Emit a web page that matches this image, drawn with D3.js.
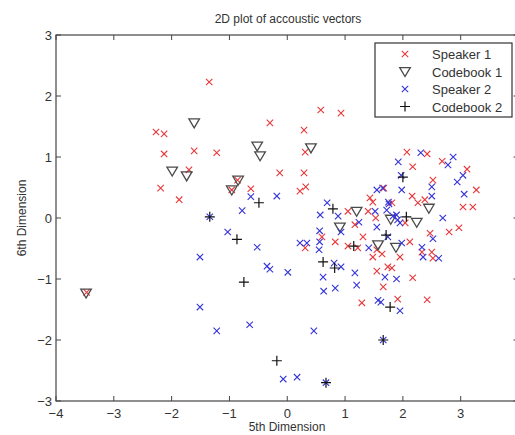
<!DOCTYPE html>
<html lang="en">
	<head>
		<meta charset="utf-8">
		<title>2D plot of accoustic vectors</title>
		<script type="text/javascript" src="https://cdn.jsdelivr.net/npm/d3@7"></script>
		<style type="text/css">
			body { margin: 0; background: #fff; }
			text { font-family: Arial, "Liberation Sans", sans-serif; fill: #333; }
		</style>
	</head>
	<body>
		<script type="text/javascript">
			//Speaker 1 vectors (red x)
			var spk1X = [-1.35, -2.27, -2.13, -2.13, -1.61, -1.22, -1.70, -2.19, -1.87, -0.63,
						 -0.30, 0.29, 0.58, 0.93, 0.31, -0.13, 0.29, 0.22, 0.32, 2.07,
						 2.42, 2.17, 2.68, 3.11, 3.27, 3.04, 3.21, 2.52, 2.16, 2.26,
						 2.38, 1.43, 1.48, 1.67, 1.81, 1.05, 1.40, 1.53, 1.17, 2.04,
						 0.60, 0.31, 0.83, 1.05, 1.31, 1.22, 1.55, 1.48, 1.64, 1.95,
						 2.12, 2.47, 2.80, 2.97, 2.33, 2.50, 2.52, 1.55, 1.74, 1.81,
						 2.17, 1.66, 1.29, 1.91, 2.42, -3.47, -0.96, -0.86];
			var spk1Y = [2.23, 1.41, 1.38, 1.05, 1.10, 1.07, 0.79, 0.49, 0.30, 0.48,
						 1.56, 1.44, 1.77, 1.72, 1.08, 0.74, 0.74, 0.44, 0.51, 1.08,
						 1.05, 0.84, 0.93, 0.80, 0.46, 0.18, 0.18, 0.62, 0.36, 0.25,
						 0.30, 0.33, 0.26, 0.49, 0.25, 0.11, 0.11, 0.00, -0.11, -0.08,
						 -0.31, -0.49, -0.39, -0.46, -0.31, -0.49, -0.52, -0.64, -0.59, -0.64,
						 -0.39, -0.25, -0.23, -0.16, -0.56, -0.56, -0.66, -0.87, -0.80, -0.82,
						 -0.98, -1.13, -1.39, -1.33, -1.34, -1.22, 0.46, 0.62];

			//Codebook 1 (triangles)
			var cb1X = [-1.61, -1.99, -1.74, -0.52, -0.47, -0.96, -0.85, 0.41,
						1.20, 2.45, -3.48, 2.24, 1.79, 0.91, 1.57, 1.88];
			var cb1Y = [1.56, 0.77, 0.69, 1.18, 1.02, 0.46, 0.62, 1.15,
						0.11, 0.16, -1.23, -0.07, -0.02, -0.15, -0.44, -0.48];

			//Speaker 2 vectors (blue x)
			var spk2X = [-1.34, -1.03, -0.52, -1.51, -1.51, -1.22, -0.65, 0.22, 0.34, -0.35,
						 -0.30, 0.01, 0.62, 0.63, 0.83, 0.81, 0.93, 1.17, 1.20, 1.62,
						 1.57, 1.95, 1.69, 1.89, 0.46, 1.66, -0.07, 0.17, 0.67, 2.31,
						 1.92, 2.78, 2.87, 3.04, 2.94, 1.97, 1.98, 2.50, 2.50, 3.06,
						 1.55, 1.65, 1.76, -0.18, 0.69, 0.57, 0.88, 1.52, 1.72, 2.69,
						 1.83, 1.91, 1.95, 1.24, 1.55, 0.56, 0.56, 0.55, 0.93, 1.41,
						 1.74, 1.98, 2.33, 2.35, 2.52, 2.62, -0.63, -0.78, 1.75, 1.89];
			var spk2Y = [0.02, -0.23, -0.48, -0.64, -1.46, -1.85, -1.75, -0.41, -0.41, -0.79,
						 -0.84, -0.89, -0.97, -1.20, -1.15, -0.74, -0.80, -0.90, -1.10, -1.38,
						 -1.35, -1.52, -0.97, -1.00, -1.85, -2.00, -2.64, -2.61, -2.70, 1.07,
						 0.92, 0.87, 1.00, 0.70, 0.59, 0.70, 0.46, 0.51, 0.36, 0.39,
						 0.46, 0.49, 0.23, 0.36, 0.25, 0.05, 0.03, 0.11, 0.13, 0.00,
						 0.03, -0.03, -0.08, -0.07, -0.15, -0.21, -0.39, -0.52, -0.23, -0.49,
						 -0.31, -0.41, -0.48, -0.64, -0.34, -0.66, 0.35, 0.12, 0.26, 0.05];

			//Codebook 2 (plus)
			var cb2X = [2.00, 0.79, -0.49, -1.34, -0.87, -0.75, 0.62, 0.82,
						1.78, 1.66, -0.18, 0.67, 2.06, 1.71, 1.15];
			var cb2Y = [0.67, 0.15, 0.25, 0.02, -0.35, -1.05, -0.72, -0.82,
						-1.46, -2.00, -2.34, -2.70, 0.02, -0.28, -0.46];

			var xTicks = [-4, -3, -2, -1, 0, 1, 2, 3, 4];
			var yTicks = [-3, -2, -1, 0, 1, 2, 3];
			var legendLabels = ["Speaker 1", "Codebook 1", "Speaker 2", "Codebook 2"];

			//Width and height
			var w = 515;
			var h = 435;
			var padL = 56, padR = 518.5, padT = 35, padB = 401;

			var xScale = d3.scaleLinear().domain([-4, 4]).range([padL, padR]);
			var yScale = d3.scaleLinear().domain([-3, 3]).range([padB, padT]);

			var svg = d3.select("body")
						.append("svg")
						.attr("width", w)
						.attr("height", h);

			function zip(xs, ys) {
				return xs.map(function(d, i) { return [d, ys[i]]; });
			}

			//Marker shapes
			function xMark(r) {
				return "M" + (-r) + "," + (-r) + "L" + r + "," + r + "M" + (-r) + "," + r + "L" + r + "," + (-r);
			}
			function plusMark(r) {
				return "M" + (-r) + ",0L" + r + ",0M0," + (-r) + "L0," + r;
			}
			function triMark(r) {
				return "M" + (-r) + "," + (-r * 0.75) + "L" + r + "," + (-r * 0.75) + "L0," + (r * 0.95) + "Z";
			}

			var styles = [
				{ path: xMark(3.2), stroke: "#e8383b", width: 1.1 },
				{ path: triMark(5.3), stroke: "#4a4a4a", width: 1.3 },
				{ path: xMark(3.2), stroke: "#3434d8", width: 1.1 },
				{ path: plusMark(5), stroke: "#111", width: 1.2 }
			];
			var series = [zip(spk1X, spk1Y), zip(cb1X, cb1Y), zip(spk2X, spk2Y), zip(cb2X, cb2Y)];

			//Box
			svg.append("rect")
			   .attr("x", padL)
			   .attr("y", padT)
			   .attr("width", padR - padL)
			   .attr("height", padB - padT)
			   .attr("fill", "none")
			   .attr("stroke", "#444")
			   .attr("stroke-width", 1.2);

			//Ticks (inward, on all four sides)
			var tl = 5;
			xTicks.forEach(function(t) {
				var x = xScale(t);
				svg.append("line").attr("x1", x).attr("x2", x).attr("y1", padB).attr("y2", padB - tl)
				   .attr("stroke", "#444");
				svg.append("line").attr("x1", x).attr("x2", x).attr("y1", padT).attr("y2", padT + tl)
				   .attr("stroke", "#444");
				if (x < w - 4) {
					svg.append("text").attr("x", x).attr("y", 418)
					   .attr("text-anchor", "middle").attr("font-size", "13px")
					   .text(t < 0 ? "\u2212" + (-t) : t);
				}
			});
			yTicks.forEach(function(t) {
				var y = yScale(t);
				svg.append("line").attr("x1", padL).attr("x2", padL + tl).attr("y1", y).attr("y2", y)
				   .attr("stroke", "#444");
				svg.append("line").attr("x1", padR).attr("x2", padR - tl).attr("y1", y).attr("y2", y)
				   .attr("stroke", "#444");
				svg.append("text").attr("x", 52).attr("y", y + 5)
				   .attr("text-anchor", "end").attr("font-size", "13px")
				   .text(t < 0 ? "\u2212" + (-t) : t);
			});

			//Points
			series.forEach(function(data, k) {
				svg.append("g")
				   .selectAll("path")
				   .data(data)
				   .enter()
				   .append("path")
				   .attr("transform", function(d) {
				   		return "translate(" + xScale(d[0]) + "," + yScale(d[1]) + ")";
				   })
				   .attr("d", styles[k].path)
				   .attr("fill", "none")
				   .attr("stroke", styles[k].stroke)
				   .attr("stroke-width", styles[k].width);
			});

			//Title and axis labels
			svg.append("text").attr("x", 288).attr("y", 23)
			   .attr("text-anchor", "middle").attr("font-size", "12px")
			   .text("2D plot of accoustic vectors");
			svg.append("text").attr("x", 287).attr("y", 431)
			   .attr("text-anchor", "middle").attr("font-size", "12px")
			   .text("5th Dimension");
			svg.append("text")
			   .attr("transform", "translate(26,218) rotate(-90)")
			   .attr("text-anchor", "middle").attr("font-size", "12px")
			   .text("6th Dimension");

			//Legend
			var lg = svg.append("g");
			lg.append("rect")
			  .attr("x", 375).attr("y", 43).attr("width", 137).attr("height", 74)
			  .attr("fill", "#fff").attr("stroke", "#333").attr("stroke-width", 1.2);
			legendLabels.forEach(function(label, i) {
				var y = 54 + i * 17.5;
				lg.append("path")
				  .attr("transform", "translate(405," + y + ")")
				  .attr("d", styles[i].path)
				  .attr("fill", "none")
				  .attr("stroke", styles[i].stroke)
				  .attr("stroke-width", styles[i].width);
				lg.append("text").attr("x", 432).attr("y", y + 5)
				  .attr("font-size", "13px")
				  .text(label);
			});
		</script>
	</body>
</html>
